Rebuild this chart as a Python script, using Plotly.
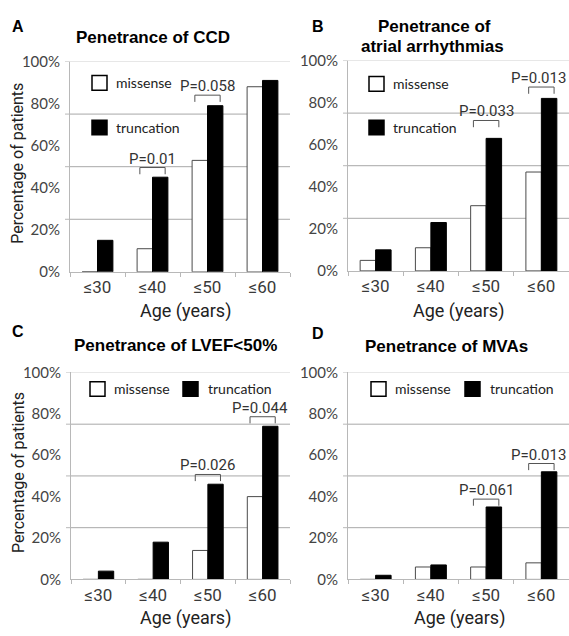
import plotly.graph_objects as go

# ---------------- data ----------------
categories = ["≤30", "≤40", "≤50", "≤60"]

ccd_missense = [0, 11, 53, 88]
ccd_truncation = [15, 45, 79, 91]

atrial_missense = [5, 11, 31, 47]
atrial_truncation = [10, 23, 63, 82]

lvef_missense = [0, 0, 14, 40]
lvef_truncation = [4, 18, 46, 74]

mva_missense = [0, 6, 6, 8]
mva_truncation = [2, 7, 35, 52]

y_tick_values = [0, 20, 40, 60, 80, 100]
y_tick_labels = ["0%", "20%", "40%", "60%", "80%", "100%"]
grid_levels = [25, 50, 75, 100]

# p-value comparisons: (category, label)
ccd_pvalues = [("≤40", "P=0.01"), ("≤50", "P=0.058")]
atrial_pvalues = [("≤50", "P=0.033"), ("≤60", "P=0.013")]
lvef_pvalues = [("≤50", "P=0.026"), ("≤60", "P=0.044")]
mva_pvalues = [("≤50", "P=0.061"), ("≤60", "P=0.013")]

# ---------------- styling / layout ----------------
W, H = 569, 636
NARROW = "Roboto, Liberation Sans, Arial, sans-serif"
SANS = "Liberation Sans, Arial, sans-serif"
SOFT = "Lato, Carlito, Calibri, Open Sans, sans-serif"
AXIS_GREY = "#b8b8b8"
GRID_GREY = "#a8a8a8"


def px(x):
    return x / W


def py(y):
    return 1 - y / H


panels = [
    dict(letter="A", letter_xy=(18, 17), title=[("Penetrance of CCD", 153, 28)],
         missense=ccd_missense, truncation=ccd_truncation, pvalues=ccd_pvalues,
         lift={"≤40": 4.6, "≤50": 5.0},
         box=(70, 290, 53, 269.5), ytitle=True, xtitle=(185, 310),
         legend=dict(kind="stack", sq_x=92, y1=75, y2=121, text_x=114)),
    dict(letter="B", letter_xy=(318, 17),
         title=[("Penetrance of", 434, 17), ("atrial arrhythmias", 433, 38)],
         missense=atrial_missense, truncation=atrial_truncation, pvalues=atrial_pvalues,
         lift={"≤50": 8.5, "≤60": 5.4},
         box=(348, 569, 52, 268.5), ytitle=False, xtitle=(458, 310),
         legend=dict(kind="stack", sq_x=369, y1=76, y2=121, text_x=391)),
    dict(letter="C", letter_xy=(18, 331), title=[("Penetrance of LVEF<50%", 175, 345)],
         missense=lvef_missense, truncation=lvef_truncation, pvalues=lvef_pvalues,
         lift={"≤50": 4.7, "≤60": 4.6},
         box=(71, 290, 373, 586), ytitle=True, xtitle=(186, 626),
         legend=dict(kind="row", y=390, sq1=90, t1=112, sq2=183, t2=206)),
    dict(letter="D", letter_xy=(318, 333), title=[("Penetrance of MVAs", 446, 346)],
         missense=mva_missense, truncation=mva_truncation, pvalues=mva_pvalues,
         lift={"≤50": 3.8, "≤60": 4.0},
         box=(348, 569, 373, 586), ytitle=False, xtitle=(459, 626),
         legend=dict(kind="row", y=390, sq1=371, t1=393, sq2=465, t2=488)),
]

fig = go.Figure()
shapes = []
annotations = []
layout_axes = {}

SQ = 15  # legend swatch size in px


def swatch(x, yc, filled):
    shapes.append(dict(type="rect", xref="paper", yref="paper",
                       x0=px(x), x1=px(x + SQ), y0=py(yc + SQ / 2), y1=py(yc - SQ / 2),
                       fillcolor="black" if filled else "white",
                       line=dict(color="black", width=1.5)))


def legend_text(x, yc, text):
    annotations.append(dict(text=text, xref="paper", yref="paper", x=px(x), y=py(yc),
                            xanchor="left", yanchor="middle", showarrow=False,
                            font=dict(family=SOFT, size=14, color="#222")))


for i, p in enumerate(panels, start=1):
    xa = "x" if i == 1 else f"x{i}"
    ya = "y" if i == 1 else f"y{i}"
    xkey = "xaxis" if i == 1 else f"xaxis{i}"
    ykey = "yaxis" if i == 1 else f"yaxis{i}"
    left, right, top, base = p["box"]

    fig.add_trace(go.Bar(x=categories, y=p["missense"], name="missense", xaxis=xa, yaxis=ya,
                         marker=dict(color="white", line=dict(color="#4a4a4a", width=1)),
                         showlegend=False, hoverinfo="skip"))
    fig.add_trace(go.Bar(x=categories, y=p["truncation"], name="truncation", xaxis=xa, yaxis=ya,
                         marker=dict(color="black", line=dict(color="black", width=1)),
                         showlegend=False, hoverinfo="skip"))

    layout_axes[xkey] = dict(
        domain=[px(left), px(right)], anchor=ya, type="category",
        categoryorder="array", categoryarray=categories, range=[-0.5, 3.5],
        showline=True, linecolor=AXIS_GREY, linewidth=1,
        ticks="outside", tickson="boundaries", ticklen=4, tickcolor=AXIS_GREY,
        showgrid=False, zeroline=False,
        tickfont=dict(family=NARROW, size=17, color="#3a3a3a"), fixedrange=True)
    layout_axes[ykey] = dict(
        domain=[py(base), py(top)], anchor=xa, range=[0, 100],
        tickmode="array", tickvals=y_tick_values, ticktext=y_tick_labels,
        ticks="", ticklabelstandoff=6, showgrid=False, zeroline=False,
        showline=True, linecolor=AXIS_GREY, linewidth=1,
        tickfont=dict(family=SOFT, size=15, color="#444"), fixedrange=True)

    # horizontal grid at quarter steps, with short tick marks on the value axis
    tick_frac = 5 / (right - left)
    for lv in grid_levels:
        shapes.append(dict(type="line", xref=f"{xa} domain", yref=ya, x0=0, x1=1, y0=lv, y1=lv,
                           line=dict(color="#cfcfcf" if lv == 100 else GRID_GREY, width=1),
                           layer="below"))
        shapes.append(dict(type="line", xref=f"{xa} domain", yref=ya, x0=-tick_frac, x1=0,
                           y0=lv, y1=lv, line=dict(color=AXIS_GREY, width=1)))

    # significance brackets between the two bars of a group
    for cat, label in p["pvalues"]:
        ci = categories.index(cat)
        y_top = max(p["missense"][ci], p["truncation"][ci]) + p["lift"][cat]
        leg = 3.2
        x0, x1 = ci - 0.23, ci + 0.23
        for (ax0, ay0, ax1, ay1) in [(x0, y_top - leg, x0, y_top), (x0, y_top, x1, y_top),
                                     (x1, y_top, x1, y_top - leg)]:
            shapes.append(dict(type="line", xref=xa, yref=ya, x0=ax0, x1=ax1, y0=ay0, y1=ay1,
                               line=dict(color="#555", width=1)))
        annotations.append(dict(text=label, xref=xa, yref=ya, x=ci, y=y_top, xanchor="center",
                                yanchor="bottom", showarrow=False, yshift=-2,
                                xshift=-3 if ci == 3 else 0,
                                font=dict(family=NARROW, size=15, color="#333")))

    # panel letter and title
    lx, ly = p["letter_xy"]
    annotations.append(dict(text=f"<b>{p['letter']}</b>", xref="paper", yref="paper",
                            x=px(lx), y=py(ly), xanchor="center", yanchor="middle",
                            showarrow=False, font=dict(family=SANS, size=16, color="black")))
    for text, tx, ty in p["title"]:
        annotations.append(dict(text=f"<b>{text}</b>", xref="paper", yref="paper",
                                x=px(tx), y=py(ty), xanchor="center", yanchor="middle",
                                showarrow=False, font=dict(family=SANS, size=17, color="black")))

    # axis titles
    ax_x, ax_y = p["xtitle"]
    annotations.append(dict(text="Age (years)", xref="paper", yref="paper", x=px(ax_x),
                            y=py(ax_y), xanchor="center", yanchor="middle", showarrow=False,
                            font=dict(family=NARROW, size=18, color="#222")))
    if p["ytitle"]:
        annotations.append(dict(text="Percentage of patients", xref="paper", yref="paper",
                                x=px(18), y=py((top + base) / 2 - 3), xanchor="center",
                                yanchor="middle", textangle=-90, showarrow=False,
                                font=dict(family=NARROW, size=16, color="#222")))

    # series key
    lg = p["legend"]
    if lg["kind"] == "stack":
        swatch(lg["sq_x"], lg["y1"], False)
        legend_text(lg["text_x"], lg["y1"], "missense")
        swatch(lg["sq_x"], lg["y2"], True)
        legend_text(lg["text_x"], lg["y2"], "truncation")
    else:
        swatch(lg["sq1"], lg["y"], False)
        legend_text(lg["t1"], lg["y"], "missense")
        swatch(lg["sq2"], lg["y"], True)
        legend_text(lg["t2"], lg["y"], "truncation")

fig.update_layout(
    width=W, height=H, margin=dict(l=0, r=0, t=0, b=0),
    paper_bgcolor="white", plot_bgcolor="white",
    barmode="group", bargap=0.44, bargroupgap=0,
    showlegend=False, shapes=shapes, annotations=annotations,
    **layout_axes,
)

fig.write_html("out.html", config=dict(displayModeBar=False))
